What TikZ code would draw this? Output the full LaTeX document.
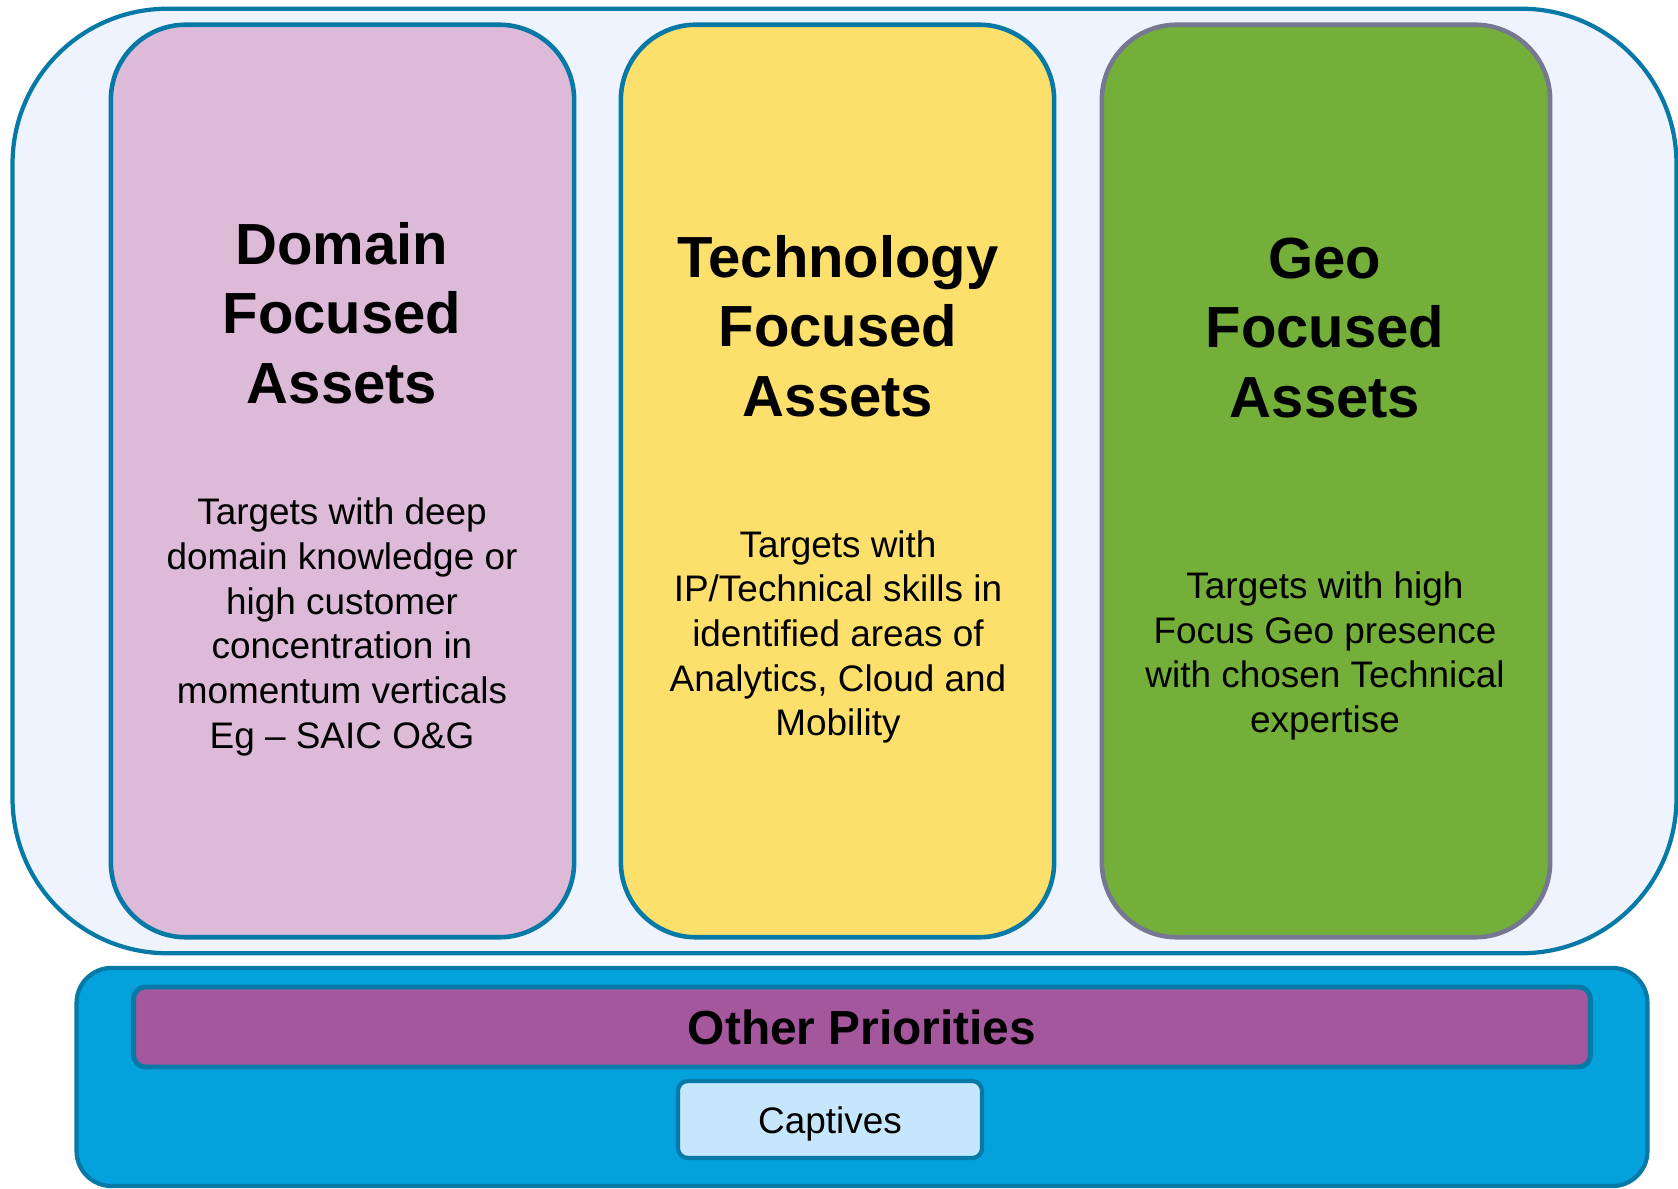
\documentclass[tikz,border=0pt]{standalone}
\usepackage{fontspec}
\setmainfont{Liberation Sans}
\usetikzlibrary{positioning}

\definecolor{edgeblue}{HTML}{0779A6}
\definecolor{edgegrey}{HTML}{767791}
\definecolor{paleback}{HTML}{EEF3FE}
\definecolor{pinkbox}{HTML}{DCBAD8}
\definecolor{yellowbox}{HTML}{FDDF6C}
\definecolor{greenbox}{HTML}{74AF39}
\definecolor{bluebase}{HTML}{04A2DD}
\definecolor{purplebar}{HTML}{A5579E}
\definecolor{captfill}{HTML}{C6E6FC}

\tikzset{
  panel/.style={draw=edgeblue, line width=1.3pt, inner sep=0pt, rounded corners=0.75cm,
    minimum height=9.12cm},
  head/.style={font=\fontsize{16.5}{19.8}\selectfont\bfseries, align=center},
  body/.style={font=\fontsize{10.5}{12.7}\selectfont, align=center},
}

\begin{document}
\begin{tikzpicture}[x=0.01cm, y=-0.01cm]
\useasboundingbox (0,0) rectangle (1678,1189);
	% upper frame and the three columns
	\node[draw=edgeblue, fill=paleback, line width=1.2pt, rounded corners=1.55cm,
		minimum width=16.63cm, minimum height=9.44cm] (frame) at (844.5,481) {};
	\node[panel, fill=pinkbox, minimum width=4.63cm] (domain) at (342.5,481) {};
	\node[panel, fill=yellowbox, minimum width=4.33cm] (tech) at (837.5,481) {};
	\node[panel, fill=greenbox, draw=edgegrey, minimum width=4.48cm] (geo) at (1326,481) {};
	\node[head] (domainhead) at (342,313) {Domain\\Focused\\Assets};
	\node[head] (techhead) at (838,326) {Technology\\Focused\\Assets};
	\node[head] (geohead) at (1325,328) {Geo\\Focused\\Assets};
	\node[body] (domaintext) at (342,627) {Targets with deep\\domain knowledge or\\high customer\\concentration in\\momentum verticals\\Eg -- SAIC O\&G};
	\node[body] (techtext) at (838,637) {Targets with\\IP/Technical skills in\\identified areas of\\Analytics, Cloud and\\Mobility};
	\node[body] (geotext) at (1325,656) {Targets with high\\Focus Geo presence\\with chosen Technical\\expertise};
	% base
	\node[draw=edgeblue, fill=bluebase, line width=1.2pt, rounded corners=0.35cm,
		minimum width=15.7cm, minimum height=2.18cm] (base) at (862,1077) {};
	\node[draw=edgeblue, fill=purplebar, line width=1.4pt, rounded corners=0.12cm,
		minimum width=14.56cm, minimum height=0.8cm,
		font=\fontsize{13.6}{16}\selectfont\bfseries] (other) at (862,1027) {Other Priorities};
	\node[draw=edgeblue, fill=captfill, line width=1.2pt, rounded corners=0.1cm,
		minimum width=3.04cm, minimum height=0.77cm,
		font=\fontsize{10.5}{12.7}\selectfont] (captives) at (830,1119.5) {\raisebox{-1.3pt}[\height][\depth]{Captives}};
\end{tikzpicture}
\end{document}
